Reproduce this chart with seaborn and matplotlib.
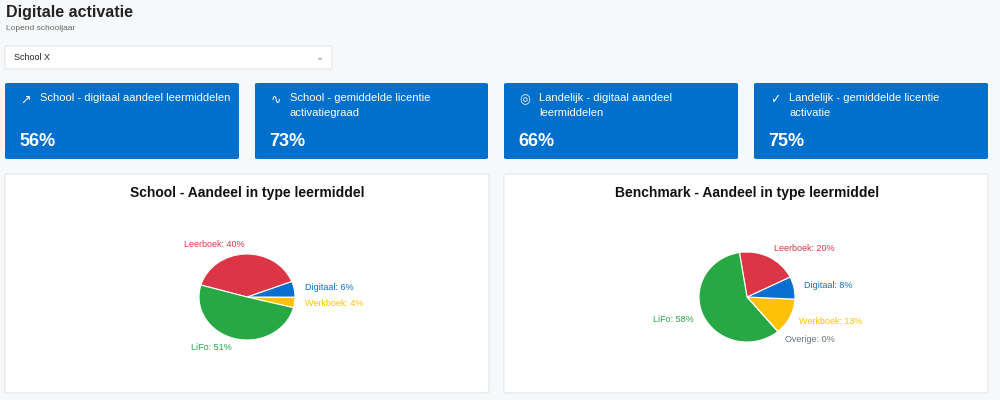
import matplotlib
matplotlib.use("Agg")
import matplotlib.pyplot as plt
import seaborn as sns
from matplotlib.patches import FancyBboxPatch

sns.set_theme(style="white", font="Liberation Sans")

card_titles = ["School - digitaal aandeel leermiddelen", "School - gemiddelde licentie\nactivatiegraad",
               "Landelijk - digitaal aandeel\nleermiddelen", "Landelijk - gemiddelde licentie\nactivatie"]
card_values = ["56%", "73%", "66%", "75%"]
card_icons = ["↗", "∿", "◎", "✓"]

school_labels = ["Werkboek", "Digitaal", "Leerboek", "LiFo"]
school_values = [4, 6, 40, 51]
bench_labels = ["Werkboek", "Digitaal", "Leerboek", "LiFo", "Overige"]
bench_values = [13, 8, 20, 58, 0]

colors = {"Werkboek": "#ffc107", "Digitaal": "#0a6fd0", "Leerboek": "#dc3545",
          "LiFo": "#28a745", "Overige": "#6c757d"}

W, H = 1000, 400
fig = plt.figure(figsize=(10, 4), dpi=100, facecolor="#f7f8fa")

def box(x0, y0, x1, y1, fc, ec="none", r=3):
    p = FancyBboxPatch((x0 / W, 1 - y1 / H), (x1 - x0) / W, (y1 - y0) / H,
                       boxstyle=f"round,pad=0,rounding_size={r / W}", transform=fig.transFigure,
                       fc=fc, ec=ec, lw=0.8, zorder=0)
    fig.patches.append(p)

def t(x, y, s, **kw):
    fig.text(x / W, 1 - y / H, s, **kw)

t(6, 12, "Digitale activatie", fontsize=11.5, fontweight="bold", color="#222", va="center")
t(6, 28, "Lopend schooljaar", fontsize=6, color="#666", va="center")
box(5, 46, 332, 69, "white", "#e3e5e8")
t(14, 58, "School X", fontsize=6.5, color="#222", va="center")
t(320, 57, "⌄", fontsize=7, color="#888", va="center", ha="center", family="DejaVu Sans")

cx = [(5, 239), (255, 488), (504, 738), (754, 988)]
for (x0, x1), title, val, ic in zip(cx, card_titles, card_values, card_icons):
    box(x0, 83, x1, 159, "#0070cc")
    t(x0 + 21, 100, ic, fontsize=9, color="white", va="center", ha="center", family="DejaVu Sans")
    t(x0 + 35, 93, title, fontsize=8, color="white", va="top", linespacing=1.6)
    t(x0 + 14, 141, val, fontsize=13, color="white", fontweight="bold", va="center")

panels = [(5, 489), (504, 988)]
for x0, x1 in panels:
    box(x0, 174, x1, 393, "white", "#e3e5e8")

t(247, 193, "School - Aandeel in type leermiddel", fontsize=10, fontweight="bold", color="#111", ha="center", va="center")
t(747, 193, "Benchmark - Aandeel in type leermiddel", fontsize=10, fontweight="bold", color="#111", ha="center", va="center")

def pie(cxp, cyp, rx, ry, labels, values, start):
    ax = fig.add_axes([(cxp - rx) / W, 1 - (cyp + ry) / H, 2 * rx / W, 2 * ry / H], zorder=5)
    ax.patch.set_visible(False)
    wedges, texts = ax.pie(values, colors=[colors[l] for l in labels], startangle=start,
                           labels=[f"{l}: {v}%" for l, v in zip(labels, values)],
                           labeldistance=1.22, wedgeprops=dict(ec="white", lw=0.8),
                           textprops=dict(fontsize=6.5))
    for tx, l in zip(texts, labels):
        tx.set_color(colors[l])
    ax.set_aspect("auto")
    ax.set_xlim(-1, 1); ax.set_ylim(-1, 1)
    ax.axis("off")

pie(247, 297, 48, 43, school_labels, school_values, -14.4)
pie(747, 297, 48, 45, bench_labels, bench_values, -50)

fig.savefig("out.png", dpi=100, facecolor=fig.get_facecolor())
